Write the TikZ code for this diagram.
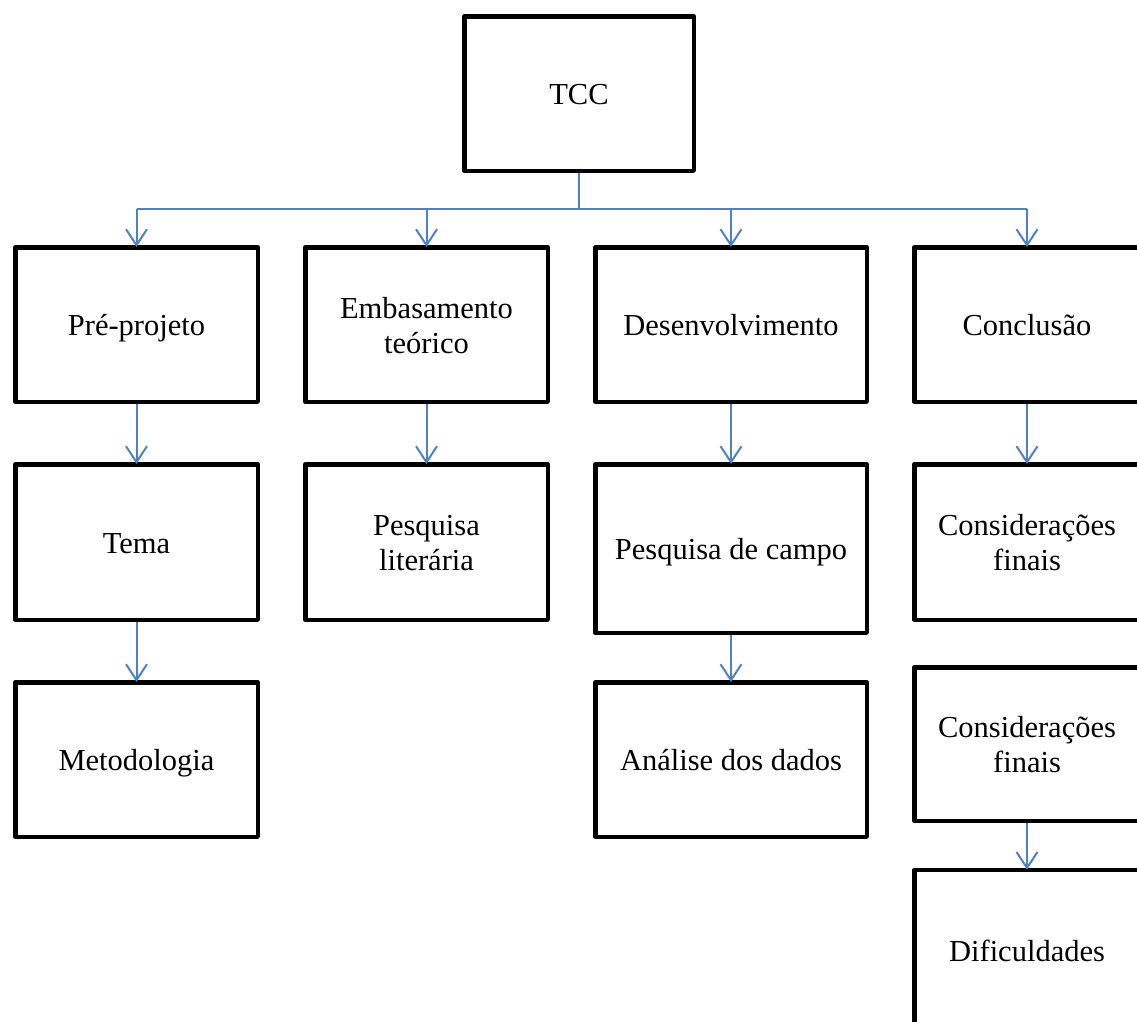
\documentclass[tikz,border=0pt]{standalone}
\usepackage{fontspec}
\setmainfont{Liberation Serif}
\usetikzlibrary{arrows.meta}
\definecolor{linkblue}{RGB}{79,129,189}
\begin{document}
\begin{tikzpicture}[x=1pt,y=-1pt,
  box/.style={draw=black, line width=4.5pt, line join=round, fill=white,
    inner sep=0pt, align=center, text height=27pt, text depth=5pt,
    font=\fontsize{30.5}{35}\selectfont},
  twoline/.style={text height=62pt},
  link/.style={draw=linkblue, line width=2pt},
  arr/.style={link, -{Straight Barb[length=16pt,width=21pt,line width=2pt]}}]
  \useasboundingbox (0,0) rectangle (1137,1021);
  \clip (0,0) rectangle (1137,1021);

  % top node
  \node[box, minimum width=229.5pt, minimum height=154.5pt] (tcc) at (579,93.5) {TCC};

  % first row
  \node[box, minimum width=242.5pt, minimum height=154.5pt] (pre) at (136.5,324.5) {Pré-projeto};
  \node[box, twoline, minimum width=242.5pt, minimum height=154.5pt] (emb) at (426.5,324.5) {Embasamento\\teórico};
  \node[box, minimum width=271.5pt, minimum height=154.5pt] (des) at (731,324.5) {Desenvolvimento};
  \node[box, minimum width=225.5pt, minimum height=154.5pt] (con) at (1027,324.5) {Conclusão};

  % second row
  \node[box, minimum width=242.5pt, minimum height=155.5pt] (tema) at (136.5,542) {Tema};
  \node[box, twoline, minimum width=242.5pt, minimum height=155.5pt] (lit) at (426.5,542) {Pesquisa\\literária};
  \node[box, minimum width=271.5pt, minimum height=168.5pt] (campo) at (731,548.5) {Pesquisa de campo};
  \node[box, twoline, minimum width=225.5pt, minimum height=155.5pt] (cf1) at (1027,542) {Considerações\\finais};

  % third row
  \node[box, minimum width=242.5pt, minimum height=154.5pt] (met) at (136.5,759.5) {Metodologia};
  \node[box, minimum width=271.5pt, minimum height=154.5pt] (ana) at (731,759.5) {Análise dos dados};
  \node[box, twoline, minimum width=225.5pt, minimum height=153.5pt] (cf2) at (1027,744) {Considerações\\finais};

  % fourth row
  \node[box, minimum width=225.5pt, minimum height=160pt] (dif) at (1027,950) {Dificuldades};

  % distribution bus below the top node
  \coordinate (bus) at (0,209);
  \draw[link] (tcc.south) -- (tcc.south |- bus);
  \draw[link] (pre.north |- bus) -- (con.north |- bus);
  \foreach \n in {pre,emb,des,con}
    \draw[arr] (\n.north |- bus) -- ([yshift=-2pt]\n.north);

  % vertical links
  \draw[arr] (pre.south) -- ([yshift=-2pt]tema.north);
  \draw[arr] (tema.south) -- ([yshift=-2pt]met.north);
  \draw[arr] (emb.south) -- ([yshift=-2pt]lit.north);
  \draw[arr] (des.south) -- ([yshift=-2pt]campo.north);
  \draw[arr] (campo.south) -- ([yshift=-2pt]ana.north);
  \draw[arr] (con.south) -- ([yshift=-2pt]cf1.north);
  \draw[arr] (cf2.south) -- ([yshift=-2pt]dif.north);
\end{tikzpicture}
\end{document}
